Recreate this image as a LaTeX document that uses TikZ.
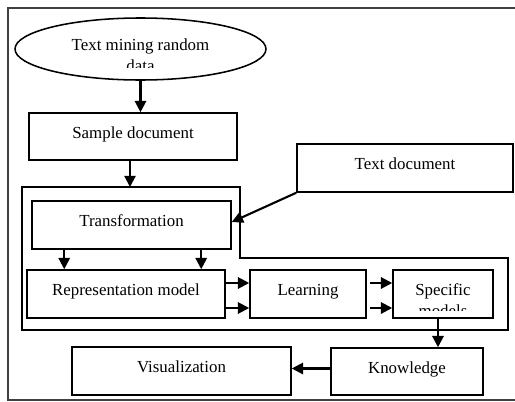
\documentclass[tikz,border=0pt]{standalone}
\usepackage{fontspec}
\setmainfont{Liberation Serif}
\usetikzlibrary{shapes.geometric, arrows.meta}
\tikzstyle{arrow} = [line width=1.5pt,-{Triangle[length=8pt,width=8pt]}]
\tikzstyle{block} = [draw, line width=1.1pt, rectangle, inner sep=0pt,
    text height=9pt, text depth=6.5pt, font=\fontsize{12}{15}\selectfont]
\tikzstyle{oval} = [draw, line width=1.1pt, ellipse, inner sep=0pt]
\tikzstyle{cliptext} = [align=center, anchor=north, inner sep=0pt]
\newcommand{\pxl}{0.025cm}

\begin{document}
\begin{tikzpicture}[x=0.025cm, y=-0.025cm]
    \useasboundingbox (0,0) rectangle (515,402);
    \draw[line width=1.4pt, black!75] (515,8) -- (8,8) -- (8,400) -- (515,400);

    % source ellipse, its second line is cut off
    \node[oval, minimum width=251*\pxl, minimum height=62*\pxl] (src) at (140.5,49) {};
    \begin{scope}
        \clip (src.west |- src.north) rectangle ([yshift=13*\pxl]src.east |- src.south);
        \node[cliptext, font=\fontsize{12}{15}\selectfont] (srctxt) at (140.5,38.5) {Text mining random\\data};
    \end{scope}

    \node[block, minimum width=208*\pxl, minimum height=47*\pxl] (smp) at (133,136.5) {Sample document};
    \node[block, minimum width=216*\pxl, minimum height=48*\pxl] (tdoc) at (405,168) {Text document};

    % outline round the processing steps
    \coordinate (g1) at (22,187);
    \coordinate (g2) at (240,258);
    \coordinate (g3) at (508,330);
    \draw[line width=0.9pt] (g1) -- (g1 -| g2) -- (g2) -- (g2 -| g3) -- (g3) -- (g3 -| g1) -- cycle;

    \node[block, minimum width=199*\pxl, minimum height=48*\pxl] (trans) at (131.5,225) {Transformation};
    \node[block, minimum width=198*\pxl, minimum height=48*\pxl] (rep) at (126,294) {Representation model};
    \node[block, minimum width=116*\pxl, minimum height=48*\pxl] (learn) at (308,294) {Learning};
    \node[block, minimum width=100*\pxl, minimum height=48*\pxl] (spec) at (443,294) {};
    \begin{scope}
        \clip (spec.north west) rectangle ([yshift=8*\pxl]spec.south east);
        \node[cliptext, font=\fontsize{12}{15}\selectfont] (spectxt) at (443,283.5) {Specific\\models};
    \end{scope}

    \node[block, minimum width=152*\pxl, minimum height=47*\pxl] (know) at (407,371.5) {Knowledge};
    \node[block, minimum width=219*\pxl, minimum height=48*\pxl] (vis) at (181.5,371) {Visualization};

    % connectors
    \draw[arrow] (src.south) -- (smp.north -| src.south);
    \draw[arrow] ([xshift=-3*\pxl]smp.south) -- ([xshift=-3*\pxl]smp.south |- g1);
    \draw[arrow] (tdoc.south west) -- ([yshift=3*\pxl]trans.east);
    \foreach \dx in {33,170}
        \draw[arrow] ([xshift=\dx*\pxl]trans.south west) -- ([xshift=\dx*\pxl]trans.south west |- rep.north);
    \foreach \dy in {11,-14} {
        \draw[arrow] ([yshift=\dy*\pxl]rep.east) -- ([yshift=\dy*\pxl]learn.west);
        \draw[arrow] ([xshift=3*\pxl, yshift=\dy*\pxl]learn.east) -- ([yshift=\dy*\pxl]spec.west);
    }
    \draw[arrow] ([xshift=-5*\pxl]spec.south) -- ([xshift=-5*\pxl]spec.south |- know.north);
    \draw[arrow] ([yshift=3*\pxl]know.west) -- ([yshift=3*\pxl]know.west -| vis.east);
\end{tikzpicture}
\end{document}
